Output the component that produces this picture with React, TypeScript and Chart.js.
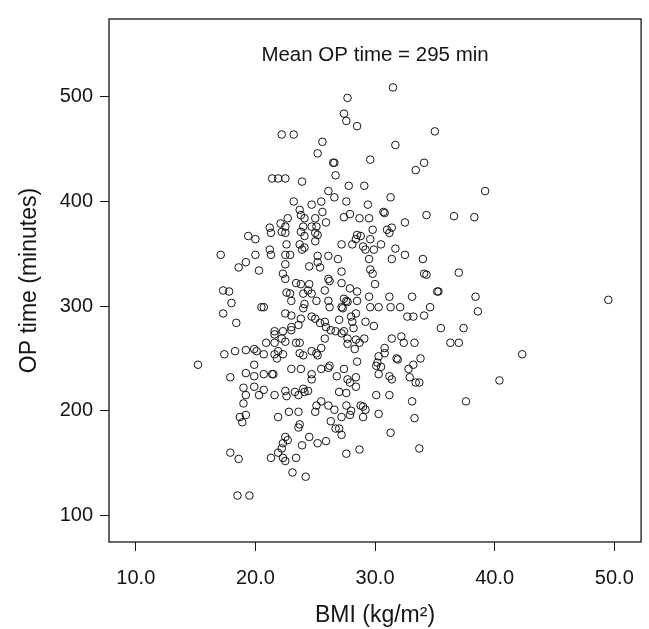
import { useEffect, useRef } from "react";
import { Chart, registerables } from "chart.js";

Chart.register(...registerables);

// BMI (kg/m²) of each patient
const bmi = [
  22.2, 21.4, 21.9, 22.5, 31.5, 27.7, 27.4, 27.6, 28.5, 23.2, 25.6, 25.2, 31.7, 26.5, 26.6, 29.6, 26.7, 33.4, 34.1, 23.9,
  27.8, 29.1, 26.1, 26.6, 31.3, 23.2, 24.7, 25.5, 27.6, 29.4, 35.0, 39.2, 17.1, 19.4, 20.0, 21.2, 21.3, 20.0, 21.2, 21.3,
  19.2, 18.6, 20.3, 17.3, 17.8, 18.0, 20.5, 20.7, 17.3, 18.4, 21.6, 30.7, 30.8, 34.3, 23.7, 23.8, 25.6, 22.7, 22.1, 22.5,
  24.1, 25.0, 24.0, 24.7, 25.1, 25.9, 27.4, 27.9, 28.7, 29.5, 32.5, 31.4, 31.0, 31.2, 22.2, 22.5, 23.8, 24.1, 25.0, 25.2,
  29.8, 28.5, 28.4, 28.8, 29.6, 22.6, 23.7, 24.1, 23.9, 25.0, 27.2, 28.1, 29.0, 29.2, 29.9, 30.5, 31.7, 32.5, 34.0, 22.5,
  22.9, 25.2, 25.2, 26.1, 26.9, 29.5, 31.4, 22.5, 24.5, 25.4, 29.6, 29.8, 34.1, 34.3, 22.3, 22.5, 27.2, 23.4, 23.8, 24.5,
  24.4, 26.1, 26.2, 27.2, 27.9, 28.5, 30.0, 25.8, 22.6, 22.9, 23.0, 24.0, 24.7, 26.1, 26.2, 27.4, 27.6, 27.7, 28.5, 29.5,
  31.2, 33.1, 29.6, 30.3, 31.3, 32.1, 24.1, 24.0, 25.1, 27.2, 27.3, 22.5, 23.0, 23.8, 24.7, 25.0, 25.8, 27.0, 28.0, 28.4,
  28.1, 29.2, 32.7, 33.2, 34.1, 36.6, 38.3, 37.0, 35.2, 35.3, 38.4, 34.6, 38.6, 35.5, 37.4, 15.2, 17.4, 18.3, 19.2, 19.9,
  20.1, 20.7, 20.9, 21.6, 21.6, 21.6, 21.8, 17.9, 19.2, 19.9, 19.9, 20.7, 21.4, 21.5, 19.0, 19.9, 20.7, 20.3, 19.2, 21.6,
  19.0, 19.2, 18.7, 18.9, 17.9, 18.6, 21.3, 21.9, 23.0, 23.6, 22.3, 22.2, 22.5, 23.0, 25.4, 25.9, 26.3, 26.7, 27.2, 27.4,
  28.2, 29.9, 25.8, 27.7, 27.7, 28.4, 28.7, 29.1, 28.3, 23.4, 23.7, 23.7, 24.0, 24.7, 25.1, 25.2, 25.5, 21.9, 22.3, 31.4,
  32.2, 32.4, 33.3, 30.8, 30.8, 30.3, 31.8, 31.9, 33.8, 28.5, 30.2, 30.1, 30.5, 33.2, 32.8, 23.0, 23.8, 24.7, 24.7, 25.5,
  26.2, 26.1, 27.4, 26.8, 27.7, 27.9, 28.4, 28.4, 30.3, 31.2, 31.4, 32.9, 33.4, 33.7, 22.5, 22.6, 23.3, 23.6, 24.0, 24.4,
  24.1, 27.0, 27.6, 30.1, 31.2, 33.1, 25.5, 25.1, 25.0, 26.1, 26.6, 27.6, 28.0, 27.9, 28.8, 29.0, 29.2, 27.2, 29.0, 30.3,
  33.3, 22.8, 23.6, 21.9, 26.3, 23.6, 23.7, 26.7, 27.0, 27.2, 31.3, 24.5, 22.5, 22.7, 22.3, 22.2, 23.9, 25.2, 25.9, 28.7,
  27.6, 33.7, 23.4, 22.3, 22.5, 23.1, 24.2, 36.3, 37.0, 42.3, 40.4, 37.6, 18.5, 19.5, 49.5,
];

// Operation time (minutes) of each patient
const opTime = [
  464, 422, 422, 422, 509, 499, 484, 477, 472, 464, 457, 446, 454, 437, 437, 440, 425, 430, 437, 419,
  415, 415, 410, 404, 404, 400, 397, 400, 400, 397, 467, 410, 349, 367, 364, 375, 370, 349, 354, 349,
  342, 337, 334, 315, 314, 303, 299, 299, 293, 284, 276, 390, 389, 387, 392, 387, 390, 384, 379, 376,
  384, 384, 376, 376, 376, 380, 385, 388, 384, 384, 380, 375, 373, 370, 371, 370, 371, 367, 370, 368,
  373, 368, 364, 367, 364, 359, 359, 356, 354, 362, 359, 359, 357, 354, 354, 359, 355, 349, 345, 349,
  349, 348, 342, 348, 345, 345, 345, 340, 338, 337, 335, 331, 331, 330, 331, 326, 333, 322, 321, 321,
  315, 326, 324, 322, 317, 314, 321, 315, 313, 312, 305, 312, 312, 305, 299, 307, 305, 304, 305, 309,
  309, 309, 299, 299, 299, 299, 302, 298, 305, 299, 298, 293, 291, 288, 290, 288, 285, 287, 290, 293,
  285, 285, 290, 290, 291, 386, 385, 332, 314, 314, 309, 299, 295, 279, 279, 244, 254, 257, 258, 259,
  257, 254, 265, 265, 273, 254, 250, 232, 236, 233, 244, 235, 235, 235, 222, 223, 220, 215, 215, 215,
  207, 196, 194, 189, 160, 154, 155, 160, 280, 282, 276, 269, 266, 277, 284, 280, 277, 276, 274, 276,
  279, 281, 269, 269, 264, 268, 265, 269, 259, 265, 265, 255, 253, 257, 255, 253, 260, 257, 254, 269,
  271, 265, 265, 260, 255, 252, 250, 249, 250, 247, 246, 243, 242, 244, 240, 240, 240, 235, 230, 240,
  243, 241, 240, 233, 230, 227, 232, 223, 235, 233, 230, 232, 227, 227, 219, 214, 218, 215, 221, 219,
  218, 218, 217, 215, 215, 209, 209, 205, 199, 205, 201, 205, 200, 196, 205, 204, 201, 194, 194, 197,
  193, 199, 199, 194, 190, 184, 187, 183, 183, 177, 179, 175, 175, 172, 169, 164, 167, 169, 171, 163,
  159, 164, 155, 155, 152, 141, 137, 265, 265, 254, 229, 209, 119, 119, 306,
];

const xTickValues = [10, 20, 30, 40, 50];
const yTickValues = [100, 200, 300, 400, 500];
const xRange = [7.76, 52.24];
const yRange = [74.6, 574.4];

const annotationText = "Mean OP time = 295 min";
const annotationAt = { x: 30, y: 540 };
const xTitle = "BMI (kg/m\u00B2)";
const yTitle = "OP time (minutes)";

const FONT = '"Liberation Sans", Arial, Helvetica, sans-serif';
const INK = "#151515";

export default function App() {
  const ref = useRef<HTMLCanvasElement>(null);

  useEffect(() => {
    const canvas = ref.current;
    if (!canvas) return;

    const framePlugin = {
      id: "frameAndNote",
      afterDraw(chart: any) {
        const { ctx, chartArea: a } = chart;
        ctx.save();
        ctx.strokeStyle = INK;
        ctx.lineWidth = 1.3;
        ctx.strokeRect(a.left, a.top, a.right - a.left, a.bottom - a.top);
        ctx.fillStyle = INK;
        ctx.font = `20.5px ${FONT}`;
        ctx.textAlign = "center";
        ctx.textBaseline = "middle";
        ctx.fillText(
          annotationText,
          chart.scales.x.getPixelForValue(annotationAt.x),
          chart.scales.y.getPixelForValue(annotationAt.y)
        );
        ctx.restore();
      },
    };

    const chart = new Chart(canvas, {
      type: "scatter",
      data: {
        datasets: [
          {
            data: bmi.map((x, i) => ({ x, y: opTime[i] })),
            pointStyle: "circle",
            pointRadius: 3.8,
            pointHoverRadius: 3.8,
            borderWidth: 1,
            borderColor: INK,
            backgroundColor: "rgba(0,0,0,0)",
          },
        ],
      },
      options: {
        responsive: false,
        animation: false,
        devicePixelRatio: 1,
        layout: { padding: { top: 11, right: 3, left: 0, bottom: 0 } },
        plugins: {
          legend: { display: false },
          tooltip: { enabled: false },
          title: { display: false },
        },
        scales: {
          x: {
            type: "linear",
            min: xRange[0],
            max: xRange[1],
            afterBuildTicks: (s: any) => {
              s.ticks = xTickValues.map((v) => ({ value: v }));
            },
            afterFit: (s: any) => {
              s.height = 87;
            },
            grid: {
              display: true,
              drawOnChartArea: false,
              drawTicks: true,
              tickLength: 9,
              color: INK,
              lineWidth: 1,
            },
            border: { display: false },
            ticks: {
              color: INK,
              padding: 15,
              maxRotation: 0,
              font: { family: FONT, size: 20 },
              callback: (v: any) => Number(v).toFixed(1),
            },
            title: {
              display: true,
              text: xTitle,
              color: INK,
              font: { family: FONT, size: 23 },
              padding: { top: 0, bottom: 0 },
            },
          },
          y: {
            type: "linear",
            min: yRange[0],
            max: yRange[1],
            afterBuildTicks: (s: any) => {
              s.ticks = yTickValues.map((v) => ({ value: v }));
            },
            afterFit: (s: any) => {
              s.width = 109;
            },
            grid: {
              display: true,
              drawOnChartArea: false,
              drawTicks: true,
              tickLength: 9,
              color: INK,
              lineWidth: 1,
            },
            border: { display: false },
            ticks: {
              color: INK,
              padding: 7,
              font: { family: FONT, size: 20 },
              callback: (v: any) => String(v),
            },
            title: {
              display: true,
              text: yTitle,
              color: INK,
              font: { family: FONT, size: 23 },
              padding: { top: 16, bottom: 0 },
            },
          },
        },
      },
      plugins: [framePlugin],
    });

    return () => chart.destroy();
  }, []);

  return (
    <div style={{ position: "absolute", left: 0, top: 0, width: 649, height: 629 }}>
      <canvas ref={ref} width={649} height={629} style={{ display: "block" }} />
    </div>
  );
}
